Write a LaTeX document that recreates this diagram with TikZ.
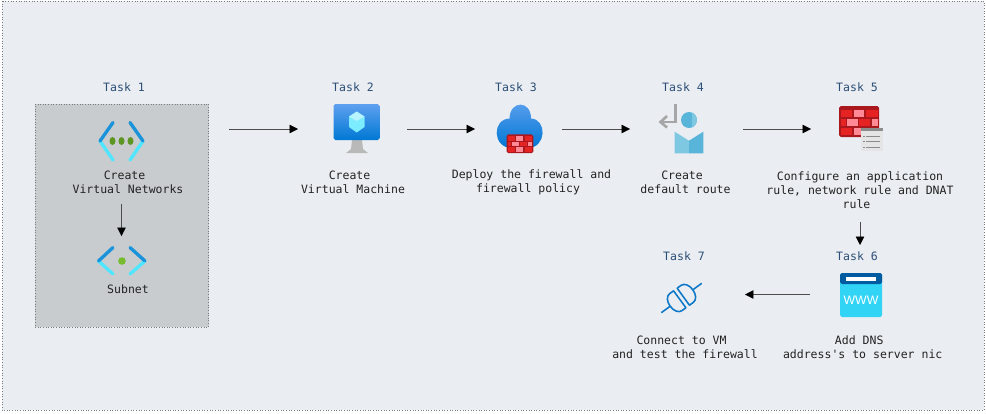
\documentclass[tikz,border=0pt]{standalone}
\usepackage{fontspec}
\setmonofont{DejaVu Sans Mono}
\setsansfont{Liberation Sans}
\usetikzlibrary{arrows.meta,calc,positioning}
\definecolor{panelBg}{RGB}{234,238,242}
\definecolor{panelEdge}{RGB}{120,125,130}
\definecolor{groupBg}{RGB}{200,204,206}
\definecolor{taskBlue}{RGB}{44,78,118}
\definecolor{inkGrey}{RGB}{34,34,34}
\definecolor{netDark}{RGB}{27,147,219}
\definecolor{netLight}{RGB}{80,230,255}
\definecolor{dotGreen}{RGB}{94,150,36}
\definecolor{dotLime}{RGB}{118,188,45}
\definecolor{azureTop}{RGB}{94,160,239}
\definecolor{azureLow}{RGB}{0,120,212}
\definecolor{wallDark}{RGB}{170,24,30}
\definecolor{wallRed}{RGB}{230,35,35}
\definecolor{wallPink}{RGB}{255,138,150}
\definecolor{personDark}{RGB}{89,180,217}
\definecolor{personLight}{RGB}{127,200,226}
\definecolor{dnsDark}{RGB}{0,91,161}
\definecolor{dnsLight}{RGB}{50,212,245}
\definecolor{plugBlue}{RGB}{15,120,200}
\tikzset{
  tasklabel/.style={font=\ttfamily\fontsize{6.55}{8}\selectfont,text=taskBlue,inner sep=0pt},
  tasktext/.style={font=\ttfamily\fontsize{6.55}{8}\selectfont,text=inkGrey,align=center,inner sep=0pt},
  slot/.style n args={2}{minimum width=#1*0.02cm,minimum height=#2*0.02cm,inner sep=0pt,outer sep=0pt},
  flowline/.style={draw=black!70,line width=0.3pt,-{Triangle[length=4.8pt,width=4.8pt,color=black]}},
  netline/.style={line width=1.9pt,line cap=round}
}
\newcommand{\brickwall}{%
  \fill[wallDark,rounded corners=1pt] (0,0) rectangle (40,31);
  \foreach \xa/\xb/\ya/\col in {2/13/3.5/wallRed,14.5/25/3.5/wallPink,27/38.5/3.5/wallRed,
      2/6.5/12.5/wallRed,8/19/12.5/wallPink,20/31/12.5/wallRed,32.5/38.5/12.5/wallPink,
      2/13/21.5/wallRed,14.5/25/21.5/wallPink,27/38.5/21.5/wallRed}
    \fill[\col] (\xa,\ya) rectangle (\xb,\ya+7);
}

\begin{document}
\begin{tikzpicture}[x=0.02cm,y=-0.02cm]
  \useasboundingbox (0,0) rectangle (986,413);
  \draw[panelEdge,densely dotted,fill=panelBg,line width=0.5pt] (2,1) rectangle (984,410);
  % task 1 group
  \node[slot={173.5}{223},draw=panelEdge,densely dotted,fill=groupBg,line width=0.5pt] (taskgroup) at (121.75,215.5) {};
  \node[tasklabel] (taskone) at (124,87) {Task 1};
  \node[slot={50}{82}] (vnetslot) at (121.5,163) {};
  \draw[netline,netLight] (100,141)--(113,160);
  \draw[netline,netDark] (113,122.5)--(100,141);
  \draw[netline,netLight] (143,141)--(130,160);
  \draw[netline,netDark] (130,122.5)--(143,141);
  \foreach \dotx in {112.5,121.5,130.5}
    \fill[dotGreen] (\dotx,141) ellipse (3 and 4);
  \node[tasktext] (vnettext) at (128,182) {Create\phantom{x}\\Virtual Networks};
  \node[slot={50}{50}] (subnetslot) at (121.5,261) {};
  \draw[netline,netLight] (98.5,261)--(113,274);
  \draw[netline,netDark] (113,247.5)--(98.5,261);
  \draw[netline,netLight] (145,261)--(130,274);
  \draw[netline,netDark] (130,247.5)--(145,261);
  \fill[dotLime] (122,261) circle (3.8);
  \node[tasktext] (subnettext) at (128,289.5) {Subnet};
  % task 2
  \node[tasklabel] (tasktwo) at (353,87) {Task 2};
  \node[slot={109}{50}] (vmslot) at (352.5,129) {};
  \fill[gray!55] (352,140)--(362,140)--(363,149)--(368,153)--(346,153)--(351,149)--cycle;
  \shade[top color=azureTop,bottom color=azureLow,rounded corners=1pt] (333.5,104) rectangle (379.5,140);
  \fill[netLight!75!white] (356.7,111.5)--(364.5,116.5)--(364.5,127)--(356.7,132.5)--(349,127)--(349,116.5)--cycle;
  \fill[white,opacity=.45] (356.7,111.5)--(364.5,116.5)--(356.7,121)--(349,116.5)--cycle;
  \node[tasktext] (vmtext) at (353,182) {Create\phantom{x}\\Virtual Machine};
  % task 3
  \node[tasklabel] (taskthree) at (516,87) {Task 3};
  \node[slot={86.5}{50}] (fwslot) at (518.25,129) {};
  \shade[top color=azureTop,bottom color=azureLow]
    (512,148) .. controls (492,148) and (492,119) .. (509.5,118.5)
    .. controls (510,100) and (531,100) .. (531,118.5)
    .. controls (547,119) and (547,148) .. (527.5,148) -- cycle;
  \begin{scope}[shift={(506.5,134.3)},xscale=.67,yscale=.61]
    \brickwall
  \end{scope}
  \node[tasktext] (fwtext) at (531.5,182) {Deploy the firewall and\\firewall policy\phantom{x}};
  % task 4
  \node[tasklabel] (taskfour) at (683,87) {Task 4};
  \node[slot={113}{50}] (routeslot) at (686.5,129) {};
  \draw[gray!70,line width=1.5pt] (675.5,104)--(675.5,122)--(661,122);
  \draw[gray!70,line width=1.5pt] (667,116)--(660.5,122)--(667,127.5);
  \fill[personDark] (689,120) circle (8);
  \begin{scope}
    \clip (689,120) circle (8);
    \fill[personLight] (692,112)--(697,112)--(697,128)--(692,128)--cycle;
  \end{scope}
  \fill[personLight] (674.7,131.7)--(689,140.7)--(689,153.3)--(674.7,153.3)--cycle;
  \fill[personDark] (703.3,131.7)--(689,140.7)--(689,153.3)--(703.3,153.3)--cycle;
  \node[tasktext] (routetext) at (685.5,182) {Create\phantom{x}\\default route};
  % task 5
  \node[tasklabel] (taskfive) at (857,87) {Task 5};
  \node[slot={98}{186}] (ruleslot) at (860,129) {};
  \begin{scope}[shift={(839,106)}]
    \brickwall
  \end{scope}
  \fill[gray!20] (861,128) rectangle (882.7,150.7);
  \fill[gray!90] (861,128) rectangle (882.7,131);
  \foreach \rowy in {135.5,141,146.5}{
    \fill[gray!90] (863,\rowy) rectangle (864.5,\rowy+1.4);
    \fill[gray!90] (866,\rowy) rectangle (880,\rowy+1.4);
  }
  \node[tasktext] (ruletext) at (860,190.5) {Configure an application\\rule, network rule and DNAT\\rule\phantom{x}};
  % task 6
  \node[tasklabel] (tasksix) at (857,256) {Task 6};
  \node[slot={100}{99}] (dnsslot) at (860,294.5) {};
  \fill[dnsLight,rounded corners=1pt] (840,273) rectangle (882,317);
  \fill[dnsDark,rounded corners=1pt] (840,273) rectangle (882,284);
  \fill[white] (845.7,276.7) rectangle (876,281);
  \node[font=\sffamily\fontsize{7}{8}\selectfont,text=white,inner sep=0pt] (wwwtext) at (861,300) {WWW};
  \node[tasktext] (dnstext) at (862.7,347) {Add DNS\phantom{x}\\address's to server nic};
  % task 7
  \node[tasklabel] (taskseven) at (684,256) {Task 7};
  \node[slot={122}{50}] (plugslot) at (684,294.5) {};
  \begin{scope}[shift={(681.5,298)},rotate=36,plugBlue,line width=0.9pt,line join=round]
    \draw (-2.2,-10.5)--(-7,-10.5) .. controls (-11,-10.5) and (-14,-6) .. (-14,0)
      .. controls (-14,6) and (-11,10.5) .. (-7,10.5)--(-2.2,10.5)--cycle;
    \draw (2.2,-10.5)--(7,-10.5) .. controls (11,-10.5) and (14,-6) .. (14,0)
      .. controls (14,6) and (11,10.5) .. (7,10.5)--(2.2,10.5)--cycle;
    \draw (-14,0)--(-25,0) (14,0)--(25,0);
  \end{scope}
  \node[tasktext] (plugtext) at (685,347) {Connect to VM\phantom{x}\\and test the firewall};
  % arrows
  \draw[flowline,shorten <=0.41cm] (taskgroup.east |- vmslot.west)--(vmslot.west);
  \draw[flowline] (vmslot.east)--(fwslot.west);
  \draw[flowline] (fwslot.east)--(routeslot.west);
  \draw[flowline] (routeslot.east)--(ruleslot.west);
  \draw[flowline] (ruleslot.south)--(dnsslot.north);
  \draw[flowline] (dnsslot.west)--(plugslot.east);
  \draw[flowline] (vnetslot.south)--(subnetslot.north);
\end{tikzpicture}
\end{document}
